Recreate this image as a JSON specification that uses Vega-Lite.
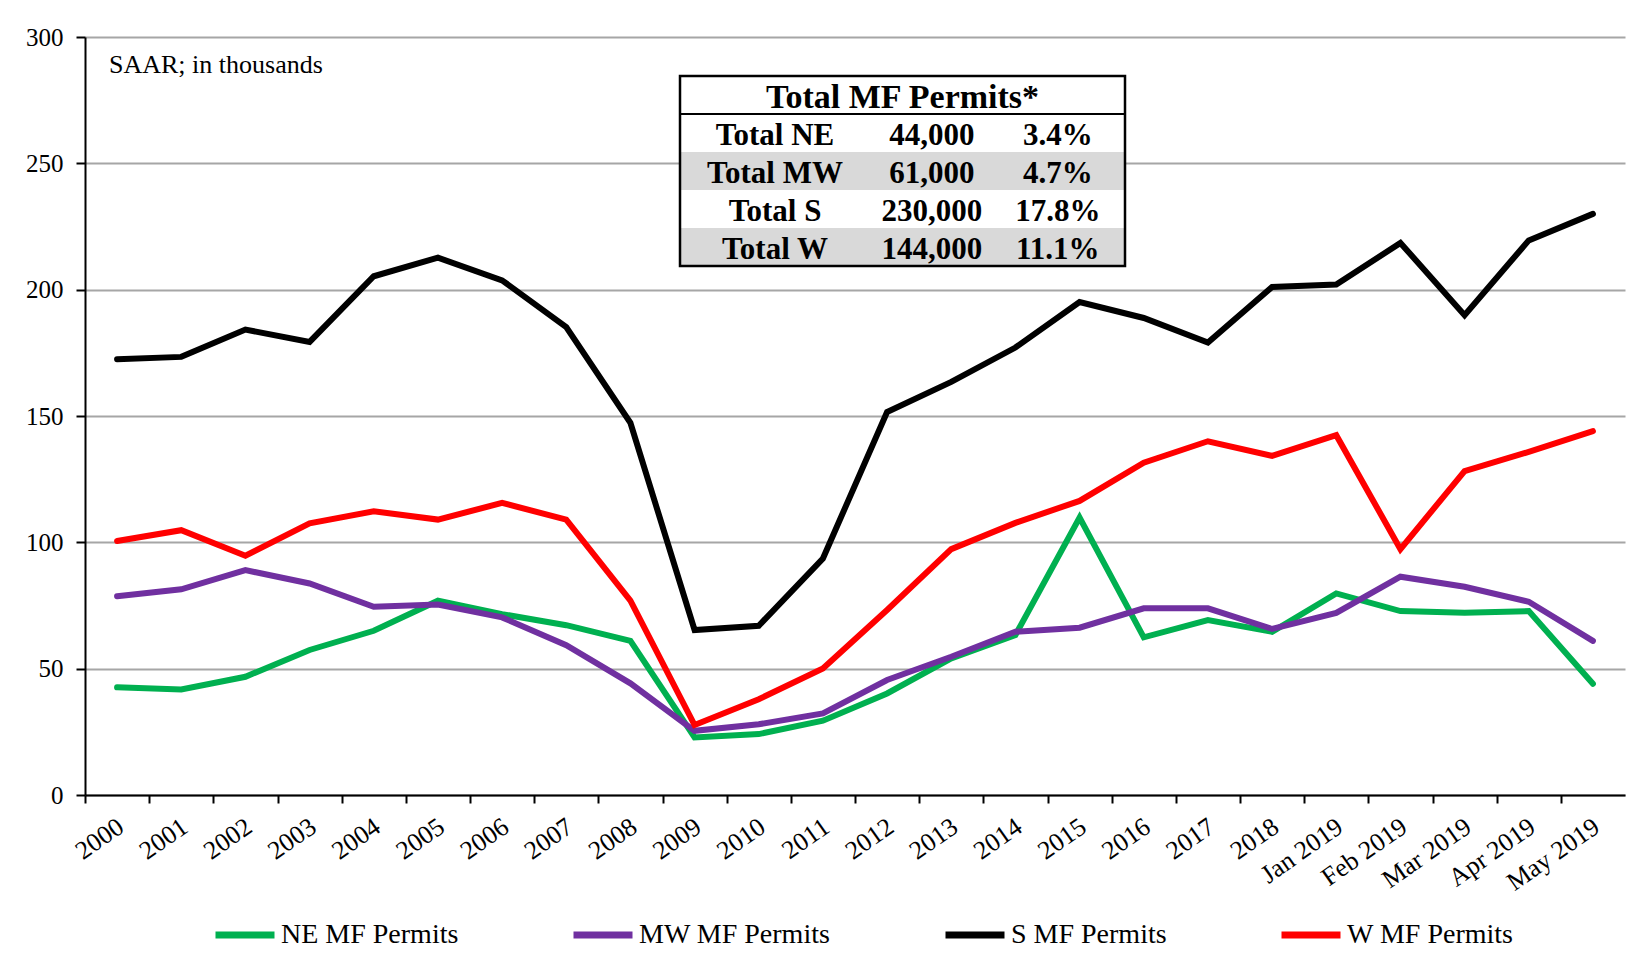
{
  "$schema": "https://vega.github.io/schema/vega-lite/v6.json",
  "autosize": {"type": "none"},
  "width": 1540,
  "height": 758,
  "padding": {"left": 85, "top": 37, "right": 4, "bottom": 167},
  "background": "white",
  "config": {"font": "Liberation Serif", "view": {"stroke": null}},
  "title": {
    "text": "SAAR; in thousands",
    "anchor": "start",
    "frame": "group",
    "orient": "top",
    "fontSize": 26,
    "fontWeight": "normal",
    "font": "Liberation Serif",
    "color": "black",
    "baseline": "alphabetic",
    "offset": 0,
    "dx": 24,
    "dy": 74
  },
  "resolve": {"scale": {"x": "independent", "y": "independent"}},
  "layer": [
    {
      "data": {"values": [
        {"period": "2000", "NE MF Permits": 42.6, "MW MF Permits": 78.7, "S MF Permits": 172.5, "W MF Permits": 100.5},
        {"period": "2001", "NE MF Permits": 41.8, "MW MF Permits": 81.4, "S MF Permits": 173.4, "W MF Permits": 104.8},
        {"period": "2002", "NE MF Permits": 46.8, "MW MF Permits": 89.0, "S MF Permits": 184.2, "W MF Permits": 94.7},
        {"period": "2003", "NE MF Permits": 57.4, "MW MF Permits": 83.7, "S MF Permits": 179.3, "W MF Permits": 107.5},
        {"period": "2004", "NE MF Permits": 65.0, "MW MF Permits": 74.5, "S MF Permits": 205.3, "W MF Permits": 112.3},
        {"period": "2005", "NE MF Permits": 76.9, "MW MF Permits": 75.4, "S MF Permits": 212.7, "W MF Permits": 109.0},
        {"period": "2006", "NE MF Permits": 71.6, "MW MF Permits": 70.3, "S MF Permits": 203.7, "W MF Permits": 115.6},
        {"period": "2007", "NE MF Permits": 67.2, "MW MF Permits": 59.3, "S MF Permits": 185.2, "W MF Permits": 109.0},
        {"period": "2008", "NE MF Permits": 61.0, "MW MF Permits": 44.2, "S MF Permits": 147.3, "W MF Permits": 76.9},
        {"period": "2009", "NE MF Permits": 22.8, "MW MF Permits": 25.4, "S MF Permits": 65.3, "W MF Permits": 27.7},
        {"period": "2010", "NE MF Permits": 24.1, "MW MF Permits": 28.0, "S MF Permits": 67.0, "W MF Permits": 37.9},
        {"period": "2011", "NE MF Permits": 29.4, "MW MF Permits": 32.3, "S MF Permits": 93.6, "W MF Permits": 50.1},
        {"period": "2012", "NE MF Permits": 40.2, "MW MF Permits": 45.5, "S MF Permits": 151.6, "W MF Permits": 73.2},
        {"period": "2013", "NE MF Permits": 54.1, "MW MF Permits": 54.7, "S MF Permits": 163.5, "W MF Permits": 97.3},
        {"period": "2014", "NE MF Permits": 63.3, "MW MF Permits": 64.6, "S MF Permits": 177.1, "W MF Permits": 107.7},
        {"period": "2015", "NE MF Permits": 109.8, "MW MF Permits": 66.2, "S MF Permits": 195.1, "W MF Permits": 116.4},
        {"period": "2016", "NE MF Permits": 62.4, "MW MF Permits": 73.9, "S MF Permits": 188.8, "W MF Permits": 131.5},
        {"period": "2017", "NE MF Permits": 69.2, "MW MF Permits": 73.9, "S MF Permits": 179.1, "W MF Permits": 140.0},
        {"period": "2018", "NE MF Permits": 64.6, "MW MF Permits": 65.7, "S MF Permits": 201.1, "W MF Permits": 134.2},
        {"period": "Jan 2019", "NE MF Permits": 79.8, "MW MF Permits": 72.1, "S MF Permits": 202.0, "W MF Permits": 142.4},
        {"period": "Feb 2019", "NE MF Permits": 72.8, "MW MF Permits": 86.4, "S MF Permits": 218.5, "W MF Permits": 97.3},
        {"period": "Mar 2019", "NE MF Permits": 72.1, "MW MF Permits": 82.4, "S MF Permits": 189.9, "W MF Permits": 128.2},
        {"period": "Apr 2019", "NE MF Permits": 72.8, "MW MF Permits": 76.5, "S MF Permits": 219.5, "W MF Permits": 135.8},
        {"period": "May 2019", "NE MF Permits": 44.0, "MW MF Permits": 61.0, "S MF Permits": 230.0, "W MF Permits": 144.0}
      ]},
      "transform": [
        {"fold": ["NE MF Permits", "MW MF Permits", "S MF Permits", "W MF Permits"], "as": ["series", "value"]}
      ],
      "mark": {"type": "line", "strokeWidth": 6, "strokeCap": "round"},
      "encoding": {
        "x": {
          "field": "period",
          "type": "nominal",
          "scale": {
            "type": "point",
            "padding": 0.5,
            "domain": ["2000", "2001", "2002", "2003", "2004", "2005", "2006", "2007", "2008", "2009", "2010", "2011", "2012", "2013", "2014", "2015", "2016", "2017", "2018", "Jan 2019", "Feb 2019", "Mar 2019", "Apr 2019", "May 2019"]
          },
          "axis": {
            "title": null,
            "grid": false,
            "labelAngle": -35,
            "labelAlign": "right",
            "labelBaseline": "top",
            "labelFont": "Liberation Serif",
            "labelFontSize": 26,
            "labelColor": "black",
            "labelPadding": 10,
            "labelOffset": 28,
            "tickOffset": -32.08,
            "tickSize": 8,
            "tickColor": "black",
            "tickWidth": 2,
            "domainColor": "black",
            "domainWidth": 2
          }
        },
        "y": {
          "field": "value",
          "type": "quantitative",
          "scale": {"domain": [0, 300]},
          "axis": {
            "title": null,
            "values": [0, 50, 100, 150, 200, 250, 300],
            "labelFont": "Liberation Serif",
            "labelFontSize": 25,
            "labelColor": "black",
            "labelPadding": 13,
            "grid": true,
            "gridColor": "#a6a6a6",
            "gridWidth": 2,
            "tickSize": 9,
            "tickColor": "black",
            "tickWidth": 2,
            "domainColor": "black",
            "domainWidth": 2
          }
        },
        "color": {
          "field": "series",
          "type": "nominal",
          "scale": {
            "domain": ["NE MF Permits", "MW MF Permits", "S MF Permits", "W MF Permits"],
            "range": ["#00b050", "#7030a0", "#000000", "#ff0000"]
          },
          "legend": {
            "title": null,
            "orient": "none",
            "legendX": 127,
            "legendY": 865,
            "direction": "horizontal",
            "symbolType": "stroke",
            "symbolStrokeWidth": 7,
            "symbolSize": 3481,
            "labelFont": "Liberation Serif",
            "labelFontSize": 28,
            "labelColor": "black",
            "labelLimit": 0,
            "labelOffset": 3,
            "columnPadding": 100
          }
        }
      }
    },
    {
      "data": {"values": [{"table": "Total MF Permits*"}]},
      "mark": {"type": "rect", "fill": "white"},
      "encoding": {
        "x": {"datum": 0, "type": "quantitative", "scale": {"domain": [0, 1], "range": [595, 1040]}, "axis": null},
        "x2": {"datum": 1},
        "y": {"datum": 0, "type": "quantitative", "scale": {"domain": [0, 1], "range": [39, 229]}, "axis": null},
        "y2": {"datum": 1}
      }
    },
    {
      "layer": [
        {
          "data": {"values": [
            {"region": "Total NE", "count": "44,000", "share": "3.4%"},
            {"region": "Total MW", "count": "61,000", "share": "4.7%"},
            {"region": "Total S", "count": "230,000", "share": "17.8%"},
            {"region": "Total W", "count": "144,000", "share": "11.1%"}
          ]},
          "layer": [
            {
              "transform": [{"filter": {"field": "region", "oneOf": ["Total MW", "Total W"]}}],
              "mark": {"type": "rect", "fill": "#d9d9d9"},
              "encoding": {
                "x": {"datum": 0, "type": "quantitative"},
                "x2": {"datum": 1},
                "y": {"field": "region", "type": "nominal"}
              }
            },
            {
              "mark": {"type": "text", "fontWeight": "bold", "fontSize": 31, "font": "Liberation Serif", "color": "black", "baseline": "middle", "align": "center", "dy": 3},
              "encoding": {
                "x": {"datum": 0.2135, "type": "quantitative"},
                "y": {"field": "region", "type": "nominal"},
                "text": {"field": "region"}
              }
            },
            {
              "mark": {"type": "text", "fontWeight": "bold", "fontSize": 31, "font": "Liberation Serif", "color": "black", "baseline": "middle", "align": "center", "dy": 3},
              "encoding": {
                "x": {"datum": 0.566, "type": "quantitative"},
                "y": {"field": "region", "type": "nominal"},
                "text": {"field": "count"}
              }
            },
            {
              "mark": {"type": "text", "fontWeight": "bold", "fontSize": 31, "font": "Liberation Serif", "color": "black", "baseline": "middle", "align": "center", "dy": 3},
              "encoding": {
                "x": {"datum": 0.849, "type": "quantitative"},
                "y": {"field": "region", "type": "nominal"},
                "text": {"field": "share"}
              }
            }
          ]
        },
        {
          "data": {"values": [{"title": "Total MF Permits*"}]},
          "mark": {"type": "text", "fontWeight": "bold", "fontSize": 34, "font": "Liberation Serif", "color": "black", "baseline": "middle", "align": "center", "dy": 3},
          "encoding": {
            "x": {"datum": 0.5, "type": "quantitative"},
            "y": {"field": "title", "type": "nominal"},
            "text": {"field": "title"}
          }
        }
      ],
      "encoding": {
        "x": {"type": "quantitative", "scale": {"domain": [0, 1], "range": [595, 1040]}, "axis": null},
        "y": {"type": "nominal", "scale": {"type": "band", "domain": ["Total MF Permits*", "Total NE", "Total MW", "Total S", "Total W"], "range": [39, 229], "paddingInner": 0, "paddingOuter": 0}, "axis": null}
      }
    },
    {
      "data": {"values": [{"table": "Total MF Permits*"}]},
      "encoding": {
        "x": {"datum": 0, "type": "quantitative", "scale": {"domain": [0, 1], "range": [595, 1040]}, "axis": null},
        "x2": {"datum": 1},
        "y": {"type": "quantitative", "scale": {"domain": [0, 1], "range": [39, 229]}, "axis": null}
      },
      "layer": [
        {
          "mark": {"type": "rect", "fill": null, "filled": false, "stroke": "black", "strokeWidth": 2.5},
          "encoding": {"y": {"datum": 0, "type": "quantitative"}, "y2": {"datum": 1}}
        },
        {
          "mark": {"type": "rule", "stroke": "black", "strokeWidth": 2},
          "encoding": {"y": {"datum": 0.2, "type": "quantitative"}}
        }
      ]
    }
  ]
}
